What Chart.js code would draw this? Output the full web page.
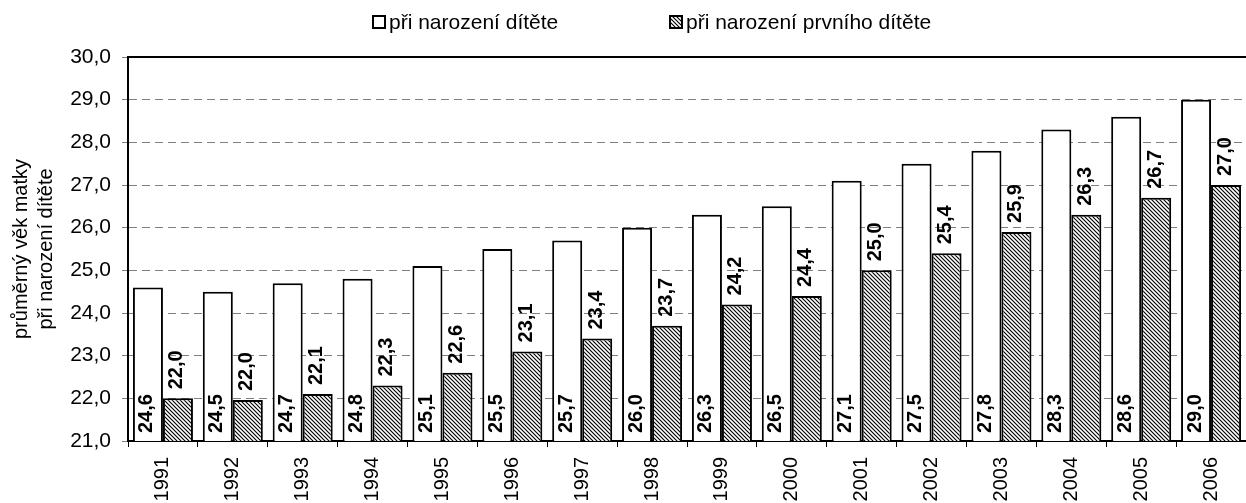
<!DOCTYPE html>
<html><head><meta charset="utf-8">
<script src="https://cdn.jsdelivr.net/npm/chart.js@4/dist/chart.umd.min.js"></script>
<style>html,body{margin:0;padding:0;background:#fff}</style>
</head><body>
<canvas id="c" width="1246" height="503"></canvas>
<script>
const years = ['1991','1992','1993','1994','1995','1996','1997','1998','1999','2000','2001','2002','2003','2004','2005','2006'];
const ageAtBirth = [24.6,24.5,24.7,24.8,25.1,25.5,25.7,26.0,26.3,26.5,27.1,27.5,27.8,28.3,28.6,29.0];
const ageAtFirstBirth = [22.0,21.96,22.1,22.3,22.6,23.1,23.4,23.7,24.2,24.4,25.0,25.4,25.9,26.3,26.7,27.0];
const seriesNames = ['při narození dítěte','při narození prvního dítěte'];
const yTitle = ['průměrný věk matky','při narození dítěte'];
const yMin = 21, yMax = 30, yStep = 1;

const FONT = '"Liberation Sans", Arial, sans-serif';
const fmt = v => v.toFixed(1).replace('.', ',');

const canvas = document.getElementById('c');
const ctx = canvas.getContext('2d');

function makeHatch() {
  const t = document.createElement('canvas');
  t.width = 4; t.height = 4;
  const g = t.getContext('2d');
  g.fillStyle = '#fff'; g.fillRect(0, 0, 4, 4);
  g.strokeStyle = '#000'; g.lineWidth = 1.15;
  g.beginPath();
  g.moveTo(-1, -1); g.lineTo(5, 5);
  g.moveTo(3, -1); g.lineTo(5, 1);
  g.moveTo(-1, 3); g.lineTo(1, 5);
  g.stroke();
  return ctx.createPattern(t, 'repeat');
}
const hatch = makeHatch();

const valueLabels = {
  id: 'valueLabels',
  afterDatasetsDraw(chart) {
    const c = chart.ctx;
    c.save();
    c.font = 'bold 20px ' + FONT;
    c.fillStyle = '#000';
    c.textAlign = 'left';
    c.textBaseline = 'middle';
    const bottom = chart.chartArea.bottom;
    chart.getDatasetMeta(0).data.forEach((bar, i) => {
      c.save();
      c.translate(bar.x - 1, bottom - 8);
      c.rotate(-Math.PI / 2);
      c.fillText(fmt(chart.data.datasets[0].data[i]), 0, 0);
      c.restore();
    });
    chart.getDatasetMeta(1).data.forEach((bar, i) => {
      c.save();
      c.translate(bar.x - 1, bar.y - 9);
      c.rotate(-Math.PI / 2);
      c.fillText(fmt(chart.data.datasets[1].data[i]), 0, 0);
      c.restore();
    });
    c.restore();
  }
};

const customLegend = {
  id: 'customLegend',
  afterDraw(chart) {
    const c = chart.ctx;
    const items = [
      {x: 372, fill: '#fff'},
      {x: 669, fill: hatch}
    ];
    c.save();
    c.font = '21px ' + FONT;
    c.textBaseline = 'middle';
    c.textAlign = 'left';
    items.forEach((it, i) => {
      c.fillStyle = it.fill;
      c.fillRect(it.x + 1, 16, 12, 12);
      c.lineWidth = 2;
      c.strokeStyle = '#000';
      c.strokeRect(it.x + 1, 16, 12, 12);
      c.fillStyle = '#000';
      c.fillText(chart.data.datasets[i].label, it.x + 17, 23);
    });
    c.restore();
  }
};

new Chart(ctx, {
  type: 'bar',
  data: {
    labels: years,
    datasets: [
      {label: seriesNames[0], data: ageAtBirth, backgroundColor: '#fff', borderColor: '#000', borderWidth: 2, xAxisID: 'x', yAxisID: 'y'},
      {label: seriesNames[1], data: ageAtFirstBirth, backgroundColor: hatch, borderColor: '#000', borderWidth: 2, xAxisID: 'x', yAxisID: 'y'}
    ]
  },
  options: {
    responsive: false,
    animation: false,
    devicePixelRatio: 1,
    layout: {padding: {top: 57, left: 0, right: 0, bottom: 0}},
    datasets: {bar: {categoryPercentage: 0.859, barPercentage: 1}},
    plugins: {legend: {display: false}, tooltip: {enabled: false}},
    scales: {
      x: {
        type: 'category',
        position: 'bottom',
        offset: true,
        grid: {offset: true, drawOnChartArea: false, drawTicks: true, tickLength: 6, color: '#000', lineWidth: 1},
        border: {display: true, color: '#000', width: 2},
        ticks: {minRotation: 90, maxRotation: 90, autoSkip: false, padding: 10, color: '#000', font: {family: FONT, size: 20}},
        afterFit(s) { s.height = 62; }
      },
      xTop: {
        type: 'category',
        position: 'top',
        labels: years,
        grid: {display: false, drawTicks: false},
        ticks: {display: false},
        border: {display: true, color: '#000', width: 2},
        afterFit(s) { s.height = 0; }
      },
      y: {
        min: yMin, max: yMax,
        ticks: {stepSize: yStep, callback: v => fmt(v), color: '#000', padding: 11, font: {family: FONT, size: 21}},
        grid: {color: '#808080', lineWidth: 1, drawTicks: true, tickLength: 6},
        border: {display: true, color: '#000', width: 2, dash: [8, 5]},
        title: {display: true, text: yTitle, color: '#000', font: {family: FONT, size: 20, lineHeight: 1.25}, padding: {top: 9, bottom: 0}},
        afterFit(s) { s.width = 128; }
      }
    }
  },
  plugins: [valueLabels, customLegend]
});
</script>
</body></html>
